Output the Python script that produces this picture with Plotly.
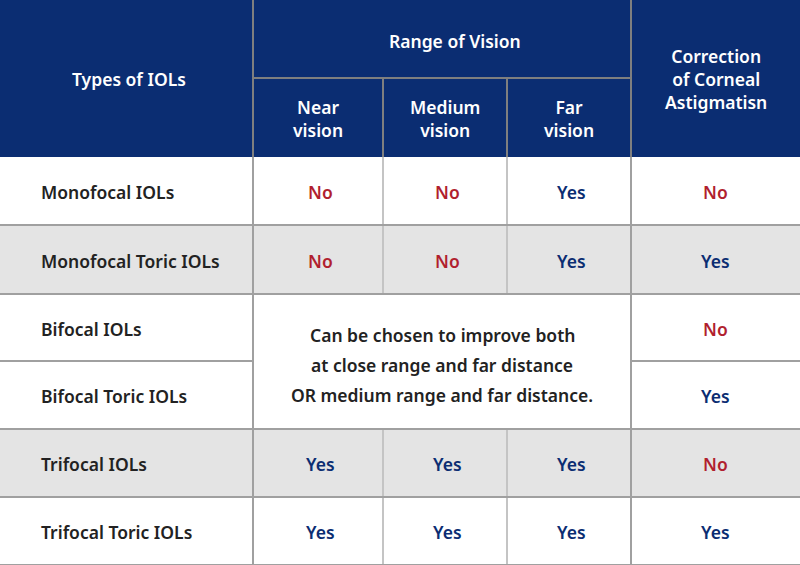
import plotly.graph_objects as go

# ---- table content ----
iol_types = ["Monofocal IOLs", "Monofocal Toric IOLs", "Bifocal IOLs",
             "Bifocal Toric IOLs", "Trifocal IOLs", "Trifocal Toric IOLs"]
near_vision = ["No", "No", None, None, "Yes", "Yes"]
medium_vision = ["No", "No", None, None, "Yes", "Yes"]
far_vision = ["Yes", "Yes", None, None, "Yes", "Yes"]
astigmatism = ["No", "Yes", "No", "Yes", "No", "Yes"]
row_shaded = [False, True, False, False, True, False]
bifocal_note = ["Can be chosen to improve both",
                "at close range and far distance",
                "OR medium range and far distance."]

header_main = "Types of IOLs"
header_group = "Range of Vision"
header_sub = ["Near<br>vision", "Medium<br>vision", "Far<br>vision"]
header_astig = "Correction<br>of Corneal<br>Astigmatisn"

# ---- layout geometry (pixels) ----
W, H = 800, 565
col_x = [0, 253, 383, 507, 631, 800]
head_mid = 78
head_bot = 157
row_y = [157, 225, 294, 361, 429, 497, 565]

NAVY = "#0b2d72"
RED = "#b11f2f"
GREY_FILL = "#e4e4e4"
LINE = "#a0a0a0"
LINE_LIGHT = "#c4c4c4"
HEAD_LINE = "#7f7f7f"
TEXT = "#222222"
FONT = "Noto Sans"

fig = go.Figure()
fig.add_trace(go.Scatter(x=[0, W], y=[0, H], mode="markers",
                         marker=dict(opacity=0), hoverinfo="skip", showlegend=False))

shapes = []
ann = []


def rect(x0, x1, y0, y1, fill):
    shapes.append(dict(type="rect", xref="x", yref="y", x0=x0, x1=x1, y0=y0, y1=y1,
                       fillcolor=fill, line=dict(width=0), layer="below"))


def line(x0, x1, y0, y1, color, width=2):
    shapes.append(dict(type="line", xref="x", yref="y", x0=x0, x1=x1, y0=y0, y1=y1,
                       line=dict(color=color, width=width)))


def text(x, y, s, color, xanchor="center", size=17.5):
    ann.append(dict(x=x, y=y, xref="x", yref="y", text=s, showarrow=False,
                    xanchor=xanchor, yanchor="middle",
                    font=dict(family=FONT, size=size, color=color, weight=600)))


def yn_color(v):
    return NAVY if v == "Yes" else RED


# header
rect(0, W, 0, head_bot, NAVY)
line(col_x[1], col_x[1], 0, head_bot, HEAD_LINE)
line(col_x[4], col_x[4], 0, head_bot, HEAD_LINE)
line(col_x[1], col_x[4], head_mid, head_mid, HEAD_LINE)
line(col_x[2], col_x[2], head_mid, head_bot, HEAD_LINE)
line(col_x[3], col_x[3], head_mid, head_bot, HEAD_LINE)

text((col_x[0] + col_x[1]) / 2 + 2, head_bot / 2, header_main, "white")
text((col_x[1] + col_x[4]) / 2 + 13, head_mid / 2 + 2, header_group, "white")
for i, s in enumerate(header_sub):
    text((col_x[i + 1] + col_x[i + 2]) / 2, (head_mid + head_bot) / 2 + 1, s, "white")
text((col_x[4] + col_x[5]) / 2, head_mid + 1, header_astig, "white")

# body rows
for r, name in enumerate(iol_types):
    y0, y1 = row_y[r], row_y[r + 1]
    yc = (y0 + y1) / 2 + 1
    rect(0, W, y0, y1, GREY_FILL if row_shaded[r] else "white")
    text(39, yc, name, TEXT, xanchor="left")
    for c, vals in enumerate([near_vision, medium_vision, far_vision]):
        v = vals[r]
        if v is not None:
            text((col_x[c + 1] + col_x[c + 2]) / 2 + 2, yc, v, yn_color(v))
            if c > 0:
                line(col_x[c + 1], col_x[c + 1], y0, y1, LINE_LIGHT)
    text((col_x[4] + col_x[5]) / 2, yc, astigmatism[r], yn_color(astigmatism[r]))

# horizontal row separators
for r in range(1, len(iol_types)):
    y = row_y[r]
    if near_vision[r] is None and near_vision[r - 1] is None:
        line(col_x[0], col_x[1], y, y, LINE)
        line(col_x[4], col_x[5], y, y, LINE)
    else:
        line(0, W, y, y, LINE)
line(0, W, row_y[-1], row_y[-1], LINE)

# main verticals in body
line(col_x[1], col_x[1], head_bot, H, LINE)
line(col_x[4], col_x[4], head_bot, H, LINE)

# merged bifocal note
merged = [i for i, v in enumerate(near_vision) if v is None]
my0, my1 = row_y[merged[0]], row_y[merged[-1] + 1]
mc = (my0 + my1) / 2 + 3
for k, s in enumerate(bifocal_note):
    text((col_x[1] + col_x[4]) / 2, mc + (k - 1) * 30, s, TEXT)

fig.update_layout(
    width=W, height=H,
    margin=dict(l=0, r=0, t=0, b=0),
    paper_bgcolor="white", plot_bgcolor="white",
    xaxis=dict(range=[0, W], visible=False, fixedrange=True),
    yaxis=dict(range=[H, 0], visible=False, fixedrange=True),
    shapes=shapes, annotations=ann,
)

fig.write_html("out.html", config=dict(displayModeBar=False),
               post_script="document.body.style.margin='0';")
